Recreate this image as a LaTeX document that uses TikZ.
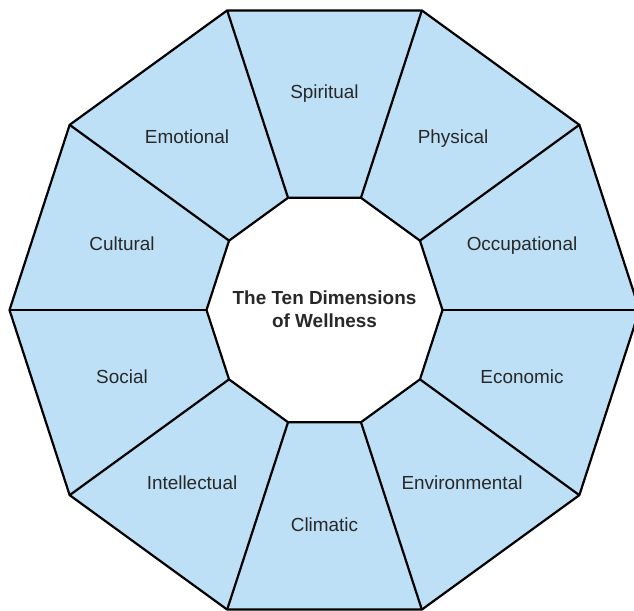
\documentclass[tikz,border=0pt]{standalone}
\usepackage{fontspec}
\setmainfont{Liberation Sans}
\definecolor{segblue}{RGB}{189,224,246}
\definecolor{labelgray}{RGB}{40,40,40}
\begin{document}
\begin{tikzpicture}[x=1bp,y=-1bp,
  lbl/.style={font=\fontsize{19}{23}\selectfont, text=labelgray, inner sep=0pt, anchor=base},
  edge/.style={line width=2.2bp, draw=black, line join=miter}]
\useasboundingbox (0,0) rectangle (634,611);
\begin{scope}[shift={(324.5,310)}]
\foreach \k in {0,...,9} {
  \coordinate (o\k) at ({36*\k}:315);
  \coordinate (i\k) at ({36*\k}:118);
}
\end{scope}
\fill[segblue] (o0) -- (o1) -- (o2) -- (o3) -- (o4) -- (o5) -- (o6) -- (o7) -- (o8) -- (o9) -- cycle;
\fill[white] (i0) -- (i1) -- (i2) -- (i3) -- (i4) -- (i5) -- (i6) -- (i7) -- (i8) -- (i9) -- cycle;
\foreach \k in {0,...,9} { \draw[edge] (i\k) -- (o\k); }
\draw[edge] (o0) -- (o1) -- (o2) -- (o3) -- (o4) -- (o5) -- (o6) -- (o7) -- (o8) -- (o9) -- cycle;
\draw[edge] (i0) -- (i1) -- (i2) -- (i3) -- (i4) -- (i5) -- (i6) -- (i7) -- (i8) -- (i9) -- cycle;
\node[lbl] (spiritual) at (324.5,99) {Spiritual};
\node[lbl] (physical) at (453,144) {Physical};
\node[lbl] (occupational) at (522,250) {Occupational};
\node[lbl] (economic) at (522,383) {Economic};
\node[lbl] (environmental) at (462,489) {Environmental};
\node[lbl] (climatic) at (324.5,531) {Climatic};
\node[lbl] (intellectual) at (192,489) {Intellectual};
\node[lbl] (social) at (122,383) {Social};
\node[lbl] (cultural) at (122,250) {Cultural};
\node[lbl] (emotional) at (187,144) {Emotional};
\node[lbl, font=\bfseries\fontsize{19}{23}\selectfont] (title1) at (324.5,304.5) {The Ten Dimensions};
\node[lbl, font=\bfseries\fontsize{19}{23}\selectfont] (title2) at (324.5,327) {of Wellness};
\end{tikzpicture}
\end{document}
